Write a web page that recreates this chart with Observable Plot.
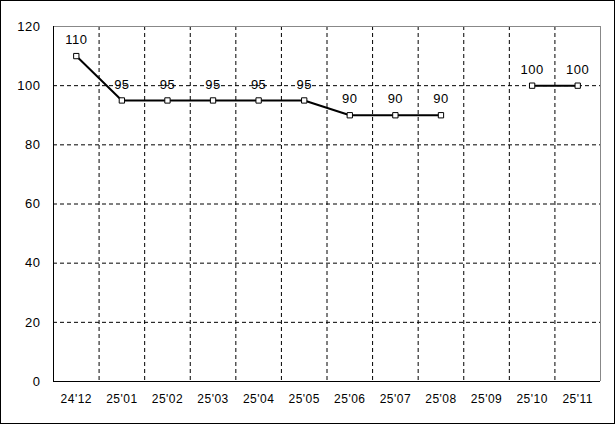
<!DOCTYPE html>
<html><head><meta charset="utf-8">
<script src="https://cdn.jsdelivr.net/npm/d3@7"></script>
<script src="https://cdn.jsdelivr.net/npm/@observablehq/plot@0.6"></script>
<style>
body{margin:0;background:#fff;}
#frame{position:fixed;left:0;top:0;width:615px;height:424px;box-sizing:border-box;border:1px solid #000;pointer-events:none;}
svg{display:block;}
</style>
</head><body>
<div id="chart"></div>
<div id="frame"></div>
<script>
const categories = ["24'12","25'01","25'02","25'03","25'04","25'05","25'06","25'07","25'08","25'09","25'10","25'11"];
const values = [110, 95, 95, 95, 95, 95, 90, 90, 90, null, 100, 100];
const yTicks = [0, 20, 40, 60, 80, 100, 120];

const data = categories.map((c, i) => ({i, c, v: values[i]}));
const labeled = data.filter(d => d.v != null);
const bounds = d3.range(categories.length - 1).map(i => i + 0.5);

const chart = Plot.plot({
  width: 615,
  height: 424,
  marginLeft: 53,
  marginRight: 15,
  marginTop: 26,
  marginBottom: 43,
  style: {fontFamily: "'Liberation Sans', Arial, sans-serif", fontSize: "13px", color: "#000", background: "#fff", letterSpacing: "0.5px"},
  x: {type: "linear", domain: [-0.5, categories.length - 0.5], axis: null, label: null},
  y: {domain: [0, 120], axis: null, label: null},
  marks: [
    Plot.ruleX(bounds, {stroke: "#000", strokeDasharray: "4,3", strokeWidth: 1}),
    Plot.ruleY([20, 40, 60, 80, 100], {stroke: "#000", strokeDasharray: "4,3", strokeWidth: 1}),
    Plot.ruleY([120], {stroke: "#888"}),
    Plot.ruleX([categories.length - 0.5], {stroke: "#888"}),
    Plot.ruleY([0], {stroke: "#000"}),
    Plot.ruleX([-0.5], {stroke: "#000"}),
    Plot.axisY(yTicks, {tickSize: 0, tickPadding: 13, fontSize: 13, fill: "#000", label: null}),
    Plot.axisX(d3.range(categories.length), {tickSize: 0, tickPadding: 13, fontSize: 12, fill: "#000", tickFormat: i => categories[i], label: null}),
    Plot.line(data, {x: "i", y: "v", stroke: "#000", strokeWidth: 2}),
    Plot.dot(labeled, {x: "i", y: "v", symbol: "square", r: 3, fill: "#fff", stroke: "#000", strokeWidth: 1}),
    Plot.text(labeled, {x: "i", y: "v", text: d => String(d.v), dy: -16, fontSize: 13, fill: "#000"})
  ]
});
document.getElementById("chart").appendChild(chart);
</script>
</body></html>
